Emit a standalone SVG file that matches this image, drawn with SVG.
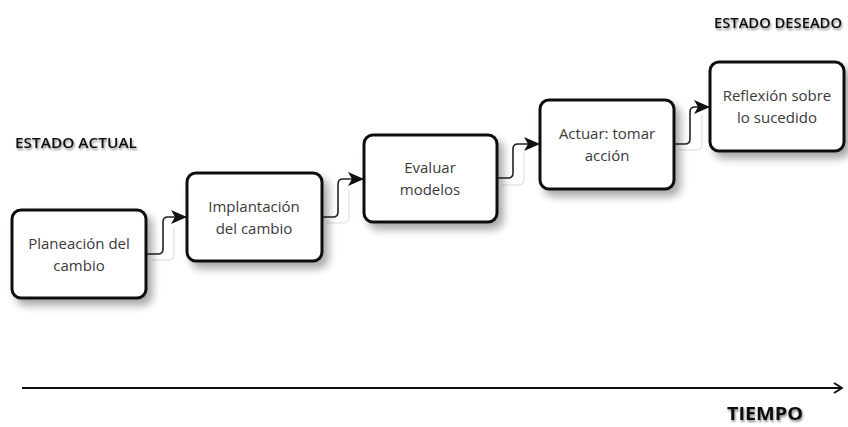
<svg xmlns="http://www.w3.org/2000/svg" width="848" height="427" viewBox="0 0 848 427">
  <defs>
    <filter id="shadow" x="-20%" y="-20%" width="150%" height="150%">
      <feGaussianBlur in="SourceAlpha" stdDeviation="4"/>
      <feOffset dx="5" dy="6" result="b"/>
      <feComponentTransfer><feFuncA type="linear" slope="0.35"/></feComponentTransfer>
      <feMerge><feMergeNode/><feMergeNode in="SourceGraphic"/></feMerge>
    </filter>
    <filter id="tshadow" x="-10%" y="-30%" width="120%" height="160%">
      <feGaussianBlur in="SourceAlpha" stdDeviation="1"/>
      <feOffset dx="1" dy="1.5" result="b"/>
      <feComponentTransfer><feFuncA type="linear" slope="0.45"/></feComponentTransfer>
      <feMerge><feMergeNode/><feMergeNode in="SourceGraphic"/></feMerge>
    </filter>
    <marker id="arrow" viewBox="0 0 16 16" refX="15" refY="8" markerWidth="16" markerHeight="16" markerUnits="userSpaceOnUse" orient="auto">
      <path d="M0,1 L16,8 L0,15 L4,8 Z" fill="#111"/>
    </marker>
    <marker id="open" viewBox="0 0 10 12" refX="9" refY="6" markerWidth="10" markerHeight="12" markerUnits="userSpaceOnUse" orient="auto">
      <path d="M1,1 L9,6 L1,11" fill="none" stroke="#111" stroke-width="2"/>
    </marker>
  </defs>
  <style>
    .box { fill: #fff; stroke: #111; stroke-width: 3; filter: url(#shadow); }
    .label { font-family: "Open Sans", "Noto Sans", sans-serif; font-size: 15px; fill: #3a3a3a; text-anchor: middle; }
    .state { font-family: "Open Sans", "Noto Sans", sans-serif; font-size: 14px; font-weight: 600; fill: #111; filter: url(#tshadow); }
    .conn { fill: none; stroke: #222; stroke-width: 1.6; }
    .ghost { fill: none; stroke: #e6e6e6; stroke-width: 1.5; }
  </style>

  <text class="state" x="15" y="148" textLength="122" lengthAdjust="spacingAndGlyphs">ESTADO ACTUAL</text>
  <text class="state" x="714" y="28" textLength="128" lengthAdjust="spacingAndGlyphs">ESTADO DESEADO</text>

  <g id="connectors">
    <path class="ghost" d="M152,260 H168 Q174,260 174,254 V228"/>
    <path class="ghost" d="M327,223 H343 Q349,223 349,217 V190"/>
    <path class="ghost" d="M502,185 H518 Q524,185 524,179 V152"/>
    <path class="ghost" d="M680,150 H696 Q702,150 702,144 V114"/>
    <path class="conn" d="M146,254 H158 Q163,254 163,249 V222 Q163,217 168,217 H186" marker-end="url(#arrow)"/>
    <path class="conn" d="M322,217 H333 Q338,217 338,212 V184 Q338,179 343,179 H363" marker-end="url(#arrow)"/>
    <path class="conn" d="M497,178 H508 Q513,178 513,173 V149 Q513,144 518,144 H539" marker-end="url(#arrow)"/>
    <path class="conn" d="M674,144 H685 Q690,144 690,139 V112 Q690,107 695,107 H709" marker-end="url(#arrow)"/>
  </g>

  <g id="planeacion">
    <rect class="box" x="12" y="210" width="134" height="88" rx="9"/>
    <text class="label" x="79" y="249">Planeación del</text>
    <text class="label" x="79" y="271">cambio</text>
  </g>
  <g id="implantacion">
    <rect class="box" x="187" y="173" width="135" height="88" rx="9"/>
    <text class="label" x="254" y="212">Implantación</text>
    <text class="label" x="254" y="234">del cambio</text>
  </g>
  <g id="evaluar">
    <rect class="box" x="364" y="135" width="133" height="87" rx="9"/>
    <text class="label" x="430" y="173">Evaluar</text>
    <text class="label" x="430" y="195">modelos</text>
  </g>
  <g id="actuar">
    <rect class="box" x="540" y="100" width="134" height="89" rx="9"/>
    <text class="label" x="607" y="139">Actuar: tomar</text>
    <text class="label" x="607" y="161">acción</text>
  </g>
  <g id="reflexion">
    <rect class="box" x="710" y="62" width="134" height="89" rx="9"/>
    <text class="label" x="777" y="101">Reflexión sobre</text>
    <text class="label" x="777" y="123">lo sucedido</text>
  </g>

  <g id="tiempo">
    <line x1="22" y1="388" x2="842" y2="388" stroke="#111" stroke-width="2.2" marker-end="url(#open)"/>
    <text x="727" y="420" font-family="'Open Sans', 'Noto Sans', sans-serif" font-size="18" font-weight="bold" fill="#111" textLength="76" lengthAdjust="spacingAndGlyphs" filter="url(#tshadow)">TIEMPO</text>
  </g>
</svg>
